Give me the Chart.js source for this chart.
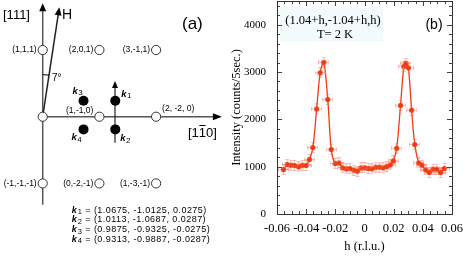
<!DOCTYPE html>
<html>
<head>
<meta charset="utf-8">
<script src="https://cdn.jsdelivr.net/npm/chart.js@4.4.0/dist/chart.umd.min.js"></script>
<style>
html, body { margin: 0; padding: 0; background: #fff; }
#wrap { position: relative; width: 463px; height: 258px; overflow: hidden; }
#lattice { position: absolute; left: 0; top: 0; }
#scan { position: absolute; left: 230px; top: 0; }
</style>
</head>
<body>
<div id="wrap">
  <canvas id="lattice" width="230" height="258"></canvas>
  <canvas id="scan" width="233" height="258"></canvas>
</div>
<script>
// ---- panel (a): lattice points, [1-10] along x, [111] along y
const latticeNames = ["(1,1,1)", "(2,0,1)", "(3,-1,1)", "", "(1,-1,0)", "(2, -2, 0)", "(-1,-1,-1)", "(0,-2,-1)", "(1,-3,-1)"]
const latticeU = [0, 1, 2, 0, 1, 2, 0, 1, 2]
const latticeV = [1, 1, 1, 0, 0, 0, -1, -1, -1]

const kNames = ["1", "2", "3", "4"]
const kU = [1.28, 1.28, 0.72, 0.72]
const kV = [0.24, -0.19, 0.24, -0.19]
const kVectors = ["(1.0675, -1.0125, 0.0275)", "(1.0113, -1.0687, 0.0287)", "(0.9875, -0.9325, -0.0275)", "(0.9313, -0.9887, -0.0287)"]

// ---- panel (b): scan (1.04+h,-1.04+h,h) at T = 2 K
const hValues = [-0.0555, -0.053, -0.0505, -0.048, -0.0452, -0.0427, -0.0401, -0.0378, -0.0354, -0.0328,
  -0.0304, -0.0279, -0.0252, -0.0228, -0.0201, -0.0175, -0.015, -0.0125, -0.0099, -0.0074,
  -0.0049, -0.0024, 0.0001, 0.0026, 0.0051, 0.0077, 0.0102, 0.0127, 0.0152, 0.0177,
  0.0198, 0.0221, 0.0247, 0.027, 0.0284, 0.0301, 0.0323, 0.0345, 0.0372, 0.0394,
  0.042, 0.0444, 0.047, 0.0495, 0.0522, 0.0547]
const intensity = [940, 1046, 1030, 1025, 996, 1030, 1025, 1151, 1404, 2220,
  2985, 3207, 2421, 1365, 1067, 1080, 975, 954, 962, 926,
  905, 975, 975, 962, 954, 990, 990, 975, 1004, 1038,
  1122, 1390, 2295, 3120, 3185, 3088, 2195, 1470, 1080, 1031,
  933, 878, 947, 947, 878, 962]
const xTickValues = [-0.06, -0.04, -0.02, 0, 0.02, 0.04, 0.06]
const xTickLabels = ["-0.06", "-0.04", "-0.02", "0", "0.02", "0.04", "0.06"]
const yTickValues = [0, 1000, 2000, 3000, 4000]

const sans = "'Liberation Sans', Arial, sans-serif"
const serif = "'Liberation Serif', 'Times New Roman', serif"
const red = "#ee3c12"

function arrow(ctx, x0, y0, x1, y1, len, half) {
  const a = Math.atan2(y1 - y0, x1 - x0)
  ctx.beginPath()
  ctx.moveTo(x0, y0)
  ctx.lineTo(x1 - Math.cos(a) * len * 0.6, y1 - Math.sin(a) * len * 0.6)
  ctx.stroke()
  ctx.beginPath()
  ctx.moveTo(x1, y1)
  ctx.lineTo(x1 - Math.cos(a) * len - Math.sin(a) * half, y1 - Math.sin(a) * len + Math.cos(a) * half)
  ctx.lineTo(x1 - Math.cos(a) * len + Math.sin(a) * half, y1 - Math.sin(a) * len - Math.cos(a) * half)
  ctx.closePath()
  ctx.fill()
}

function kLabel(ctx, x, y, n, size) {
  ctx.textAlign = "left"
  ctx.textBaseline = "alphabetic"
  ctx.font = "bold italic " + size + "px " + sans
  ctx.fillText("k", x, y)
  const w = ctx.measureText("k").width
  ctx.font = (size - 1.5) + "px " + sans
  ctx.fillText(n, x + w + 0.5, y + 1.5)
  return w + 0.5 + ctx.measureText(n).width
}

const latticeDecor = {
  id: "latticeDecor",
  beforeDatasetsDraw(chart) {
    const ctx = chart.ctx
    const px = u => chart.scales.x.getPixelForValue(u)
    const py = v => chart.scales.y.getPixelForValue(v)
    ctx.save()
    ctx.lineWidth = 1.5
    ctx.strokeStyle = "#555"
    ctx.fillStyle = "#000"
    arrow(ctx, px(0), py(-1.32), px(0), py(1.70), 8, 3.5)
    arrow(ctx, px(0), py(0), px(3.16), py(0), 9, 3.5)
    ctx.strokeStyle = "#222"
    arrow(ctx, px(0), py(0), px(0.293), py(1.64), 8, 3.5)
    ctx.lineWidth = 1.2
    arrow(ctx, px(1.275), py(-0.39), px(1.275), py(0.535), 7, 3)
    // 7 degree arc
    const ang = Math.atan2(py(1.64) - py(0), px(0.293) - px(0))
    ctx.lineWidth = 1
    ctx.strokeStyle = "#000"
    ctx.beginPath()
    ctx.arc(px(0), py(0), 42, -Math.PI / 2, ang)
    ctx.stroke()
    ctx.restore()
  },
  afterDatasetsDraw(chart) {
    const ctx = chart.ctx
    const px = u => chart.scales.x.getPixelForValue(u)
    const py = v => chart.scales.y.getPixelForValue(v)
    ctx.save()
    ctx.fillStyle = "#000"
    ctx.font = "8.5px " + sans
    ctx.textBaseline = "middle"
    latticeNames.forEach((name, i) => {
      if (!name) return
      let x = px(latticeU[i]), y = py(latticeV[i])
      if (name === "(2, -2, 0)") {
        ctx.textAlign = "left"
        ctx.fillText(name, x + 6, y - 8)
      } else if (name === "(1,-1,0)") {
        ctx.textAlign = "right"
        ctx.fillText(name, x - 6, y - 6)
      } else {
        ctx.textAlign = "right"
        ctx.fillText(name, x - 6, y)
      }
    })
    // k labels next to filled points
    const offs = [[6, -4], [5, 12], [-11, -7], [-12, 11]]
    kNames.forEach((n, i) => {
      kLabel(ctx, px(kU[i]) + offs[i][0], py(kV[i]) + offs[i][1], n, 9.5)
    })
    // big labels
    ctx.textBaseline = "middle"
    ctx.textAlign = "left"
    ctx.font = "13px " + sans
    ctx.fillText("[111]", 3, 15)
    ctx.font = "14px " + sans
    ctx.fillText("H", 62, 15)
    ctx.font = "17px " + sans
    ctx.fillText("(a)", 182, 24)
    ctx.font = "10px " + sans
    ctx.fillText("7°", 52, 78)
    // [1 -1 0]
    ctx.font = "13px " + sans
    let x = 188, y = 133
    ctx.fillText("[1", x, y)
    x += ctx.measureText("[1").width
    const w1 = ctx.measureText("1").width
    ctx.fillText("1", x, y)
    ctx.fillRect(x + 0.5, y - 8, w1 - 1, 1)
    ctx.fillText("0]", x + w1, y)
    // k vectors
    ctx.letterSpacing = "0.45px"
    kVectors.forEach((s, i) => {
      const by = 212.5 + i * 9.8
      const w = kLabel(ctx, 71.7, by, kNames[i], 9)
      ctx.font = "9px " + sans
      ctx.textBaseline = "alphabetic"
      ctx.fillText(" = " + s, 71.7 + w, by)
    })
    ctx.restore()
  }
}

new Chart(document.getElementById("lattice"), {
  type: "scatter",
  data: {
    datasets: [
      {
        data: latticeU.map((u, i) => ({ x: u, y: latticeV[i] })),
        pointRadius: 4.6,
        pointBackgroundColor: "#fff",
        pointBorderColor: "#333",
        pointBorderWidth: 1
      },
      {
        data: kU.map((u, i) => ({ x: u, y: kV[i] })),
        pointRadius: 5,
        pointBackgroundColor: "#000",
        pointBorderColor: "#000",
        pointBorderWidth: 0
      }
    ]
  },
  options: {
    responsive: false,
    animation: false,
    events: [],
    layout: { padding: 0, autoPadding: false },
    plugins: { legend: { display: false }, tooltip: { enabled: false } },
    scales: {
      x: { type: "linear", display: false, min: -0.753, max: 3.303 },
      y: { type: "linear", display: false, min: -2.118, max: 1.75 }
    }
  },
  plugins: [latticeDecor]
})

// marker: red dot with light error cross
function makeMarker() {
  const c = document.createElement("canvas")
  c.width = 11
  c.height = 11
  const g = c.getContext("2d")
  g.strokeStyle = "rgba(240,110,90,0.45)"
  g.lineWidth = 1
  g.beginPath()
  g.moveTo(5.5, 0.5); g.lineTo(5.5, 10.5)
  g.moveTo(0.5, 5.5); g.lineTo(10.5, 5.5)
  g.moveTo(3.5, 0.5); g.lineTo(7.5, 0.5)
  g.moveTo(3.5, 10.5); g.lineTo(7.5, 10.5)
  g.moveTo(0.5, 3.5); g.lineTo(0.5, 7.5)
  g.moveTo(10.5, 3.5); g.lineTo(10.5, 7.5)
  g.stroke()
  g.fillStyle = red
  g.beginPath()
  g.arc(5.5, 5.5, 2.6, 0, Math.PI * 2)
  g.fill()
  return c
}

const frameTicks = {
  id: "frameTicks",
  beforeDatasetsDraw(chart) {
    const { ctx } = chart
    ctx.save()
    ctx.fillStyle = "#f2fafc"
    ctx.fillRect(50, 8, 103, 34)
    ctx.fillStyle = "#000"
    ctx.font = "12.5px " + serif
    ctx.textAlign = "center"
    ctx.textBaseline = "middle"
    ctx.fillText("(1.04+h,-1.04+h,h)", 103, 21)
    ctx.fillText("T= 2 K", 105, 35)
    ctx.font = "14px " + sans
    ctx.fillText("(b)", 204, 25)
    ctx.restore()
  },
  afterDatasetsDraw(chart) {
    const { ctx, chartArea: a, scales } = chart
    ctx.save()
    ctx.strokeStyle = "#444"
    ctx.lineWidth = 1
    ctx.beginPath()
    for (let v = -0.06; v <= 0.0601; v += 0.005) {
      const x = Math.round(scales.x.getPixelForValue(v)) + 0.5
      const major = xTickValues.some(t => Math.abs(t - v) < 1e-6)
      const l = major ? 5 : 3
      ctx.moveTo(x, a.bottom); ctx.lineTo(x, a.bottom - l)
      ctx.moveTo(x, a.top); ctx.lineTo(x, a.top + l)
    }
    for (let v = 0; v <= 4500; v += 200) {
      const y = Math.round(scales.y.getPixelForValue(v)) + 0.5
      const l = v % 1000 === 0 ? 5 : 3
      ctx.moveTo(a.left, y); ctx.lineTo(a.left + l, y)
      ctx.moveTo(a.right, y); ctx.lineTo(a.right - l, y)
    }
    ctx.stroke()
    ctx.strokeStyle = "#333"
    ctx.strokeRect(Math.round(a.left) + 0.5, Math.round(a.top) + 0.5, Math.round(a.right - a.left), Math.round(a.bottom - a.top))
    ctx.restore()
  }
}

new Chart(document.getElementById("scan"), {
  type: "scatter",
  data: {
    datasets: [{
      data: hValues.map((h, i) => ({ x: h, y: intensity[i] })),
      showLine: true,
      borderColor: red,
      borderWidth: 1.3,
      tension: 0.3,
      pointStyle: makeMarker(),
      pointRadius: 5
    }]
  },
  options: {
    responsive: false,
    animation: false,
    events: [],
    layout: { padding: { top: 1, right: 11, left: 0, bottom: 0 }, autoPadding: false },
    plugins: { legend: { display: false }, tooltip: { enabled: false } },
    scales: {
      x: {
        type: "linear",
        min: -0.06,
        max: 0.06,
        afterBuildTicks: s => { s.ticks = xTickValues.map(v => ({ value: v })) },
        afterFit: s => { s.height = 44; s.paddingLeft = 0; s.paddingRight = 0 },
        grid: { display: false, drawTicks: false },
        border: { display: false },
        ticks: {
          callback: (v, i) => xTickLabels[i],
          color: "#000",
          font: { family: serif, size: 12.5 },
          padding: 7,
          maxRotation: 0,
          autoSkip: false
        },
        title: { display: true, text: "h (r.l.u.)", color: "#000", font: { family: serif, size: 12.5 }, padding: { top: 0, bottom: 4 } }
      },
      y: {
        type: "linear",
        min: 0,
        max: 4500,
        afterBuildTicks: s => { s.ticks = yTickValues.map(v => ({ value: v })) },
        afterFit: s => { s.width = 47; s.paddingTop = 0; s.paddingBottom = 0 },
        grid: { display: false, drawTicks: false },
        border: { display: false },
        ticks: {
          callback: v => String(v),
          color: "#000",
          font: { family: serif, size: 11 },
          padding: 11,
          autoSkip: false
        },
        title: { display: true, text: "Intensity (counts/5sec.)", color: "#000", font: { family: serif, size: 12.5, lineHeight: 1.1 }, padding: { top: 0, bottom: 0 } }
      }
    }
  },
  plugins: [frameTicks]
})
</script>
</body>
</html>
